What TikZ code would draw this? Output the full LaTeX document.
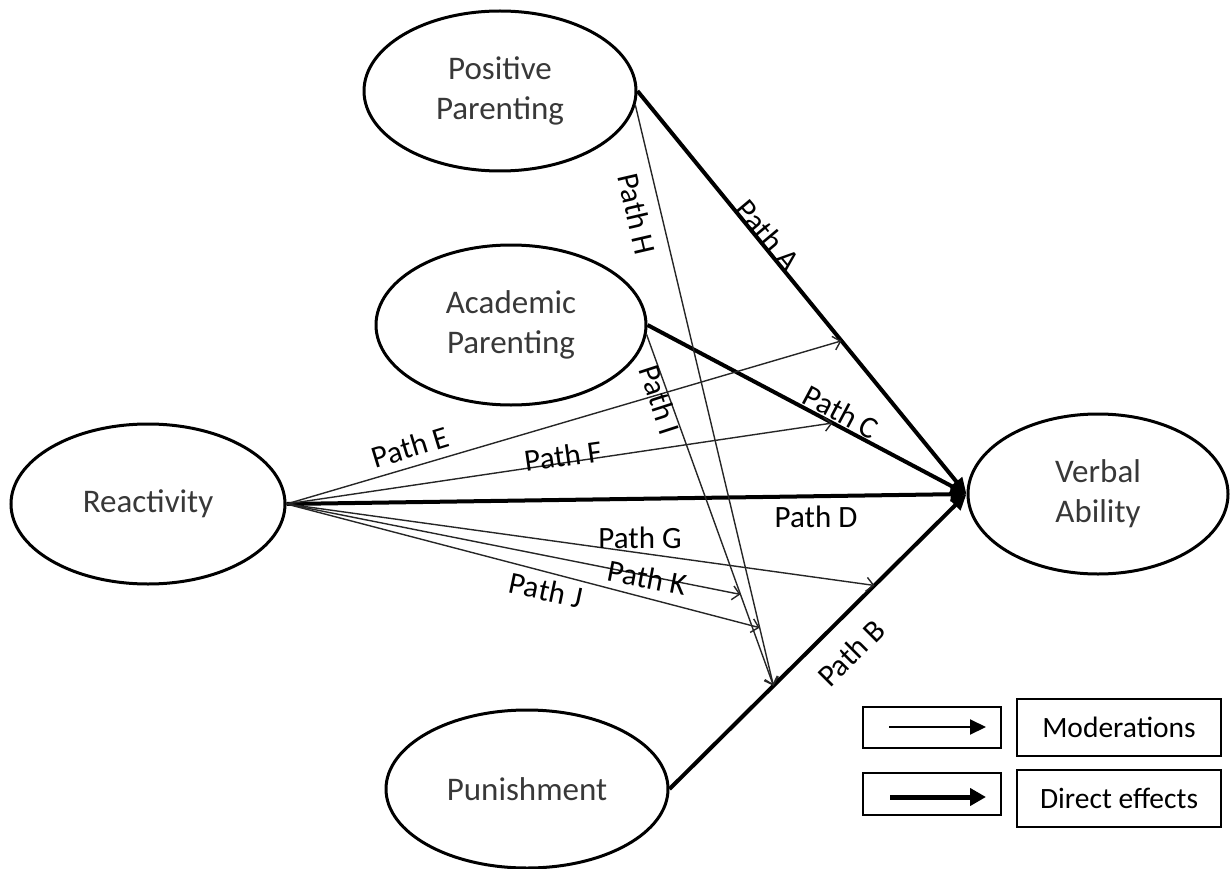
\documentclass[tikz,border=0pt]{standalone}
\usepackage{fontspec}
\setmainfont{Carlito}
\usetikzlibrary{shapes.geometric,arrows.meta}
\begin{document}
\begin{tikzpicture}[x=1pt,y=-1pt,
  latent/.style={ellipse,draw,line width=3pt,inner sep=0pt,align=center,text=black!78,font=\fontsize{33}{40}\selectfont},
  direct/.style={line width=4pt,-{Triangle[length=16pt,width=14pt]}},
  moder/.style={draw=black!85,line width=1.4pt,-{Straight Barb[length=7pt,width=14pt]}},
  lbl/.style={font=\fontsize{31}{36}\selectfont,inner sep=0pt},
  legbox/.style={draw,line width=1.5pt,inner sep=0pt},
  legtext/.style={font=\fontsize{29.5}{34}\selectfont}
]
\useasboundingbox (0,0) rectangle (1231,869);

% latent variables
\node[latent,minimum width=272pt,minimum height=160pt] (pos) at (500,91) {Positive\\Parenting};
\node[latent,minimum width=270pt,minimum height=160pt] (acad) at (511,325) {Academic\\Parenting};
\node[latent,minimum width=274pt,minimum height=160pt] (react) at (148,504) {Reactivity};
\node[latent,minimum width=260pt,minimum height=160pt] (verbal) at (1098,494) {Verbal\\Ability};
\node[latent,minimum width=282pt,minimum height=158pt] (punish) at (527,789) {Punishment};

% direct effects
\draw[direct] (pos.east) -- (verbal.west) coordinate[pos=0.62] (eA);
\draw[direct] (acad.east) -- (verbal.west) coordinate[pos=0.58] (eC);
\draw[direct] (react.east) -- (verbal.west);
\draw[direct] (punish.east) -- (verbal.west) coordinate[pos=0.69] (eG) coordinate[pos=0.35] (eHI);

% moderations
\draw[moder] (pos.-6) -- (eHI) coordinate[pos=0.9] (eJ);
\draw[moder] (acad.-4) -- (eHI) coordinate[pos=0.74] (eK);
\draw[moder] (react.east) -- (eA);
\draw[moder] (react.east) -- (eC);
\draw[moder] (react.east) -- (eG);
\draw[moder] (react.east) -- (eK);
\draw[moder] (react.east) -- (eJ);

% labels
\node[lbl,rotate=-50] (lA) at (768,235) {Path A};
\node[lbl,rotate=-77] (lH) at (637,214) {Path H};
\node[lbl,rotate=-72] (lI) at (660,400) {Path I};
\node[lbl,rotate=-28] (lC) at (841,412) {Path C};
\node[lbl,rotate=17] (lE) at (410,447) {Path E};
\node[lbl,rotate=8] (lF) at (563,456) {Path F};
\node[lbl] (lD) at (816,517) {Path D};
\node[lbl] (lG) at (640,538) {Path G};
\node[lbl,rotate=-11] (lK) at (647,578) {Path K};
\node[lbl,rotate=-12] (lJ) at (546,590) {Path J};
\node[lbl,rotate=45] (lB) at (851,653) {Path B};

% legend
\node[legbox,minimum width=138pt,minimum height=41pt] (box1) at (932,727.5) {};
\node[legbox,minimum width=204pt,minimum height=57pt,legtext] (boxM) at (1119,727.5) {Moderations};
\node[legbox,minimum width=138pt,minimum height=42pt] (box2) at (932,794) {};
\node[legbox,minimum width=204pt,minimum height=57pt,legtext] (boxD) at (1119,798.5) {Direct effects};
\coordinate (m1) at (889,727);
\coordinate (m2) at (986,727);
\coordinate (d1) at (890,797);
\coordinate (d2) at (986,797);
\draw[line width=2pt,-{Triangle[length=16pt,width=15pt]}] (m1) -- (m2);
\draw[line width=5pt,-{Triangle[length=16pt,width=17pt]}] (d1) -- (d2);
\end{tikzpicture}
\end{document}
